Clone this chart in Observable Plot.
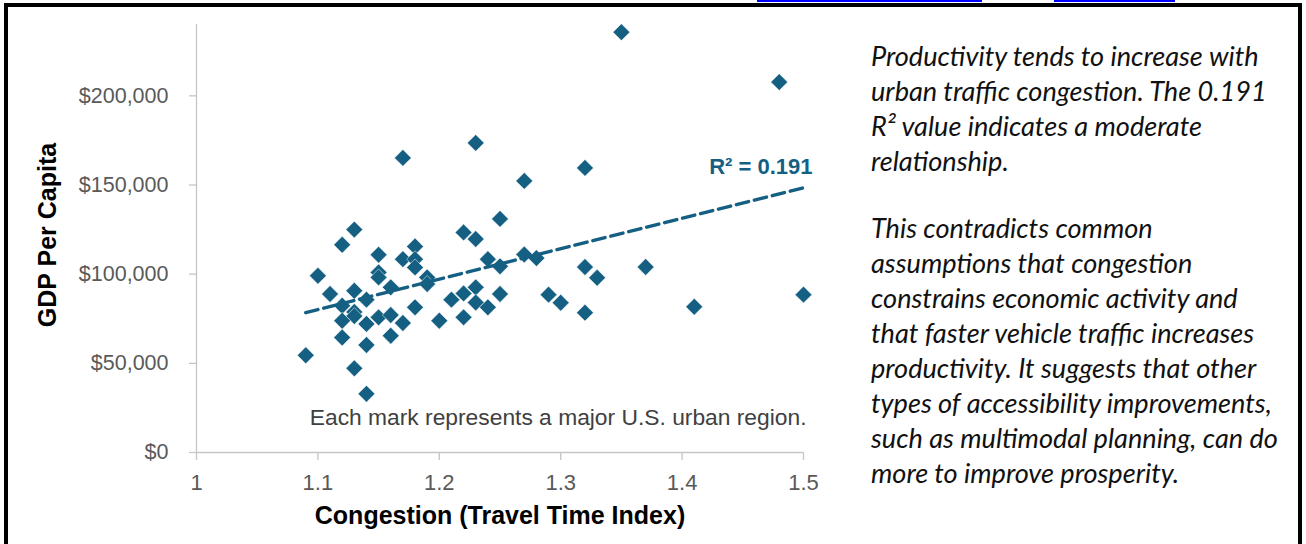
<!DOCTYPE html>
<html><head><meta charset="utf-8">
<script src="https://cdn.jsdelivr.net/npm/d3@7"></script>
<script src="https://cdn.jsdelivr.net/npm/@observablehq/plot@0.6"></script>
<style>
body{margin:0;background:#fff;}
#wrap{position:relative;width:1306px;height:544px;overflow:hidden;background:#fff;}
#chart{position:absolute;left:0;top:0;}
#notes{position:absolute;left:0;top:0;}
#frame{position:absolute;left:4px;top:3px;width:1298px;height:600px;box-sizing:border-box;border:4px solid #000;border-bottom:none;pointer-events:none;}
.link{position:absolute;top:0;height:2px;background:#0000ff;}
</style></head><body>
<div id="wrap">
  <div id="chart"></div>
  <svg id="notes" width="1306" height="544"></svg>
  <div id="frame"></div>
  <div class="link" style="left:757px;width:225px"></div>
  <div class="link" style="left:1054px;width:121px"></div>
</div>
<script>
// ---- data ----
const congestion = [
  1.13,1.12,1.22,1.23,1.25,1.15,1.18,1.17,1.18,1.18,
  1.15,1.15,1.10,1.19,1.19,1.16,1.24,1.25,1.27,1.11,
  1.13,1.14,1.12,1.13,1.13,1.12,1.14,1.15,1.16,1.17,
  1.18,1.12,1.16,1.14,1.09,1.13,1.14,1.20,1.21,1.22,
  1.23,1.22,1.23,1.24,1.25,1.17,1.23,1.27,1.32,1.35,
  1.48,1.28,1.32,1.33,1.37,1.29,1.30,1.32,1.41,1.50
];
const gdpPerCapita = [
  125000,116500,123400,119700,131000,110900,115500,108400,108400,103800,
  101000,98200,99100,98200,94500,92600,108400,104400,111000,88900,
  90700,85700,82300,78800,76500,73900,72100,75800,77100,72600,
  81400,64500,65500,60300,54500,47200,32900,73900,85700,89200,
  92600,75800,84100,81400,88900,165200,173600,152300,159600,235700,
  207700,109000,104000,98000,104000,88500,84000,78400,81700,88500
];
const xTicks = [1, 1.1, 1.2, 1.3, 1.4, 1.5];
const yTicks = [0, 50000, 100000, 150000, 200000];
const xDomain = [1, 1.5];
const yDomain = [0, 240000];
const xLabel = "Congestion (Travel Time Index)";
const yLabel = "GDP Per Capita";
const r2Label = "R² = 0.191";
const caption = "Each mark represents a major U.S. urban region.";
const notesParagraphs = [
  ["Productivity tends to increase with",
   "urban traffic congestion. The 0.191",
   "R² value indicates a moderate",
   "relationship."],
  ["This contradicts common",
   "assumptions that congestion",
   "constrains economic activity and",
   "that faster vehicle traffic increases",
   "productivity. It suggests that other",
   "types of accessibility improvements,",
   "such as multimodal planning, can do",
   "more to improve prosperity."]
];

const data = congestion.map((x, i) => ({x, y: gdpPerCapita[i]}));
const blue = "#156082";
const axisGray = "#c6c6c6";
const fmt = d3.format(",");

const chart = Plot.plot({
  width: 850,
  height: 544,
  marginLeft: 196,
  marginRight: 47,
  marginTop: 24,
  marginBottom: 92,
  style: {fontFamily: "'Liberation Sans', Arial, sans-serif", fontSize: "21.5px", background: "white", overflow: "visible"},
  x: {domain: xDomain},
  y: {domain: yDomain},
  marks: [
    Plot.ruleY([0], {stroke: axisGray, strokeWidth: 1.3}),
    Plot.ruleX([1], {stroke: axisGray, strokeWidth: 1.3}),
    Plot.axisX({ticks: xTicks, tickFormat: d => String(d), tickSize: 8, tickPadding: 14, stroke: axisGray, strokeWidth: 1.3, fill: "#595959", label: null, fontSize: 22}),
    Plot.axisY({ticks: yTicks, tickFormat: d => "$" + fmt(d), tickSize: 7, tickPadding: 21, stroke: axisGray, strokeWidth: 1.3, fill: "#595959", label: null, fontSize: 21.5, letterSpacing: "1px"}),
    Plot.dot(data, {x: "x", y: "y", symbol: "diamond2", r: 7.6, fill: blue, stroke: "white", strokeWidth: 0.5}),
    Plot.linearRegressionY(data, {x: "x", y: "y", ci: 0, stroke: blue, strokeWidth: 3.5, strokeDasharray: "12.5,6"}),
    Plot.text([r2Label], {text: d => d, frameAnchor: "top-right", textAnchor: "end", dx: 9, dy: 134, fill: blue, fontWeight: "bold", fontSize: 22}),
    Plot.text([caption], {text: d => d, frameAnchor: "bottom-right", textAnchor: "end", dx: 3, dy: -28, fill: "#404040", fontSize: 22.8}),
    Plot.text([xLabel], {text: d => d, frameAnchor: "bottom", textAnchor: "middle", dy: 71, fill: "black", fontWeight: "bold", fontSize: 25}),
    Plot.text([yLabel], {text: d => d, frameAnchor: "left", textAnchor: "middle", rotate: -90, dx: -149, dy: -3.5, fill: "black", fontWeight: "bold", fontSize: 25})
  ]
});
document.getElementById("chart").append(chart);

// ---- side notes ----
const canvas = document.createElement("canvas");
const ctx = canvas.getContext("2d");
ctx.font = "italic 100px Lato";
const w0 = ctx.measureText(notesParagraphs[0][0]).width;
const noteSize = w0 > 0 ? 100 * 389 / w0 : 22;
const notes = d3.select("#notes");
const starts = [66, 238.3];
notesParagraphs.forEach((lines, p) => {
  lines.forEach((line, i) => {
    notes.append("text")
      .attr("x", 871)
      .attr("y", starts[p] + i * 35)
      .attr("font-family", "Lato, 'Open Sans', sans-serif")
      .attr("font-style", "italic")
      .attr("font-size", noteSize)
      .attr("fill", "#111")
      .text(line);
  });
});
</script>
</body></html>
